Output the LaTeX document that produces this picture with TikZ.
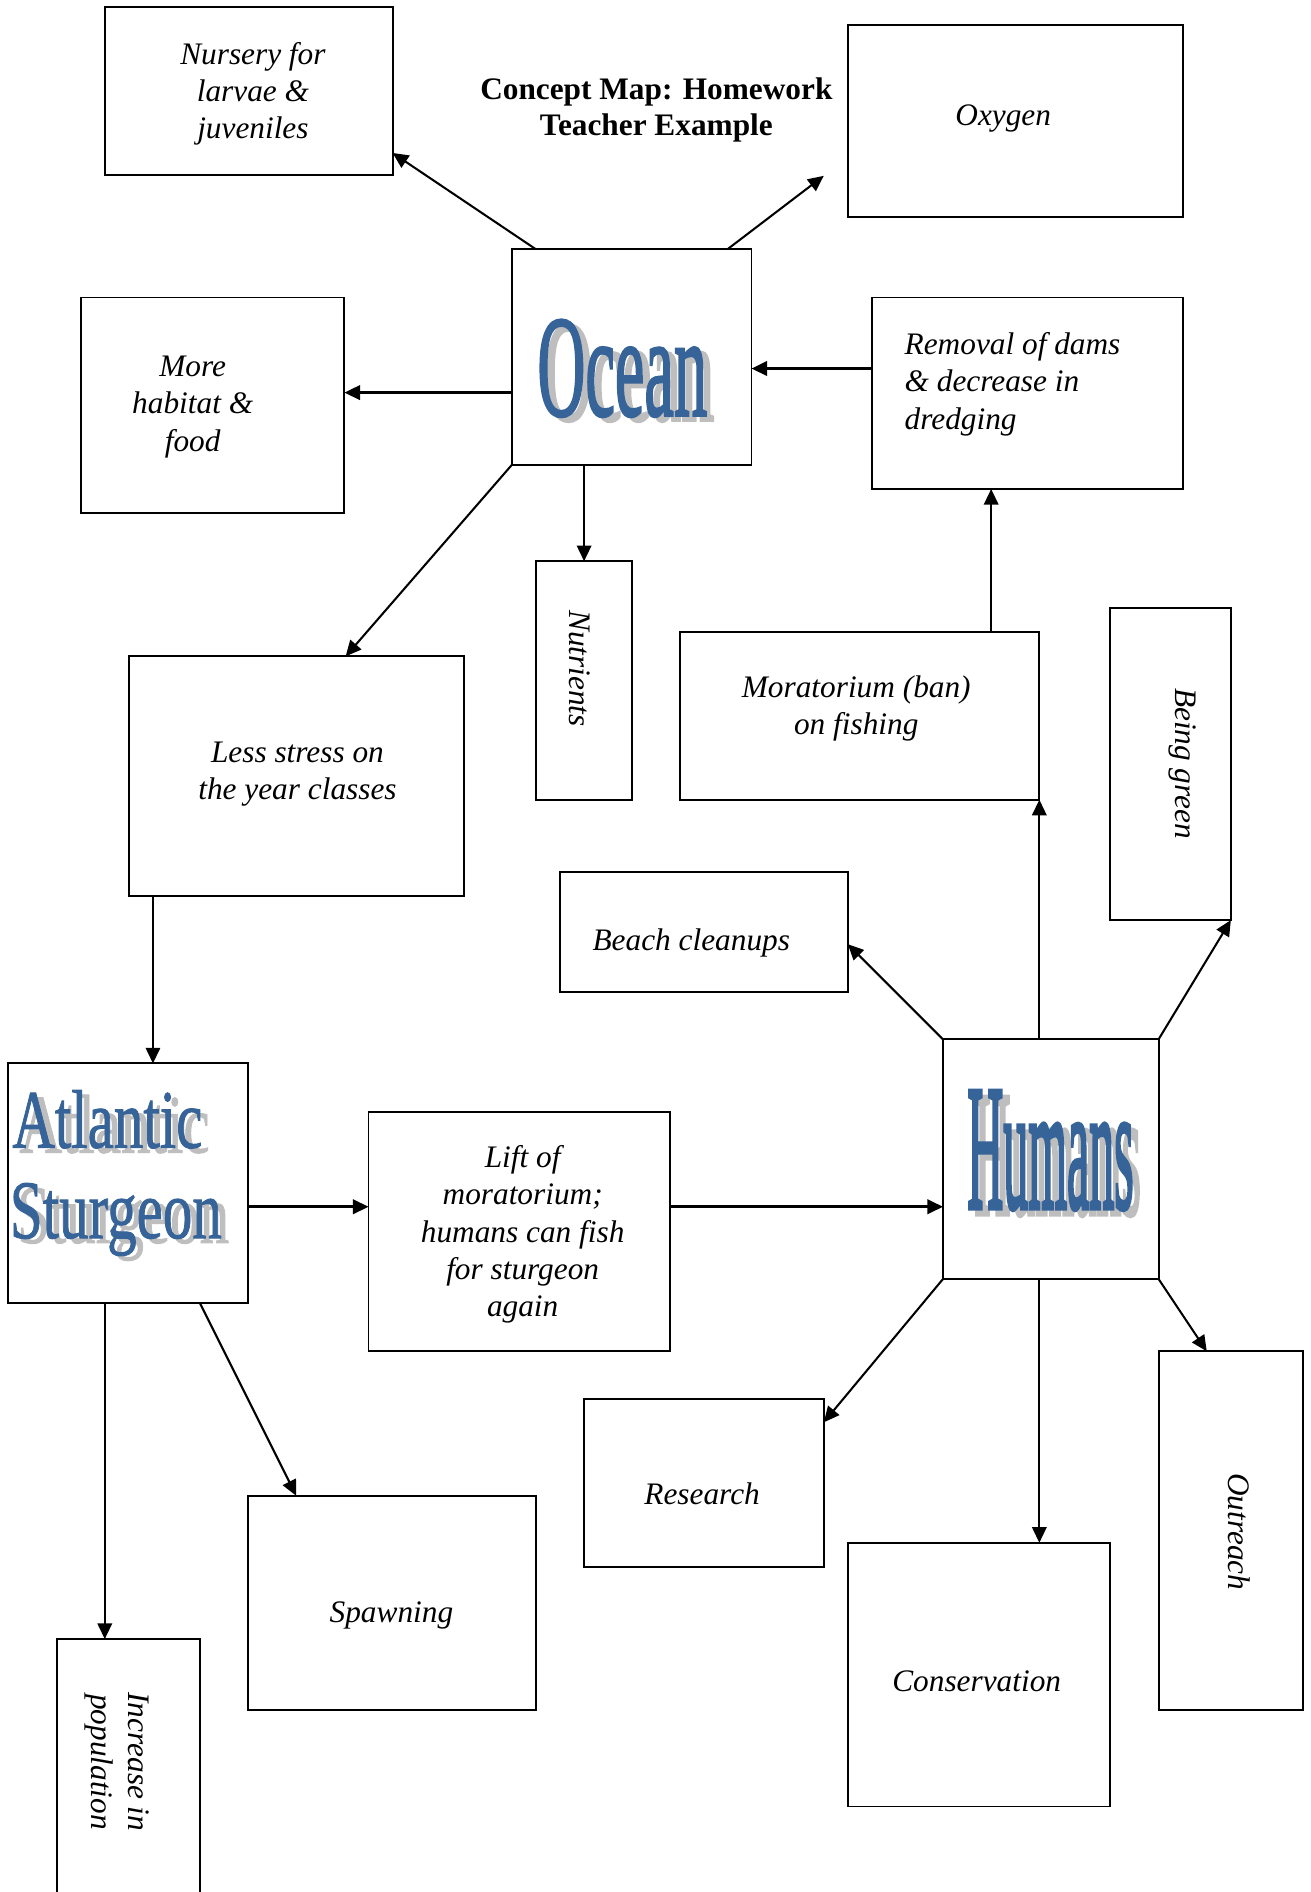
\documentclass[tikz,border=0pt]{standalone}
\usepackage{fontspec}
\setmainfont{Liberation Serif}
\newfontfamily\waOcean{Liberation Serif}[FakeBold=2]
\newfontfamily\waHumans{Liberation Serif}[FakeBold=3]
\newfontfamily\waAtl{Liberation Serif}[FakeBold=1.2]
\usetikzlibrary{arrows.meta}
\definecolor{wablue}{RGB}{54,99,152}
\definecolor{washadow}{RGB}{190,190,190}
\newcommand\wordtext[4]{\rlap{\hspace{#3}\raisebox{-#4}{\color{washadow}\scalebox{#2}[1]{#1}}}{\color{wablue}\scalebox{#2}[1]{#1}}}
\begin{document}
\begin{tikzpicture}[x=1pt,y=-1pt,
  box/.style={draw, line width=1.6pt, inner sep=0pt, outer sep=0pt, anchor=north west},
  txt/.style={font=\fontsize{26}{31}\selectfont\itshape, align=center, inner sep=0pt},
  link/.style={line width=1.7pt, -{Triangle[length=13pt,width=12pt]}},
  thicklink/.style={link, line width=2.3pt},
  wa/.style={inner sep=0pt, anchor=base west},
]
\useasboundingbox (0,0) rectangle (1088,1571);
\fill[white] (0,0) rectangle (1088,1571);

% boxes
\node[box, minimum width=239pt, minimum height=139pt] (nursery) at (87,6) {};
\node[box, minimum width=278pt, minimum height=159pt] (oxygen) at (704,21) {};
\node[box, minimum width=199pt, minimum height=179pt] (ocean) at (425,207) {};
\node[box, minimum width=219pt, minimum height=179pt] (habitat) at (67,247) {};
\node[box, minimum width=258pt, minimum height=159pt] (removal) at (724,247) {};
\node[box, minimum width=80pt, minimum height=198pt] (nutrients) at (445,466) {};
\node[box, minimum width=298pt, minimum height=139pt] (moratorium) at (565,525) {};
\node[box, minimum width=100pt, minimum height=259pt] (green) at (922,505) {};
\node[box, minimum width=278pt, minimum height=199pt] (stress) at (107,545) {};
\node[box, minimum width=239pt, minimum height=100pt] (beach) at (465,724) {};
\node[box, minimum width=199pt, minimum height=199pt] (sturgeon) at (7,883) {};
\node[box, minimum width=250pt, minimum height=199pt] (lift) at (306,923) {};
\node[box, minimum width=179pt, minimum height=199pt] (humans) at (783,863) {};
\node[box, minimum width=199pt, minimum height=139pt] (research) at (485,1162) {};
\node[box, minimum width=239pt, minimum height=178pt] (spawning) at (206,1242) {};
\node[box, minimum width=120pt, minimum height=298pt] (outreach) at (962,1122) {};
\node[box, minimum width=218pt, minimum height=219pt] (conservation) at (704,1281) {};
\node[box, minimum width=119pt, minimum height=240pt] (increase) at (47,1361) {};

% title
\node[font=\fontsize{26}{30}\selectfont\bfseries, align=center, inner sep=0pt] (title) at (545,91) {Concept Map: Homework\\Teacher Example};

% texts
\node[txt] (nursery-t) at (210,78) {Nursery for\\larvae \&\\juveniles};
\node[txt] (oxygen-t) at (833,98) {Oxygen};
\node[txt] (habitat-t) at (160,338) {More\\habitat \&\\food};
\node[txt, align=left, anchor=west] (removal-t) at (751,319) {Removal of dams\\\& decrease in\\dredging};
\node[txt] (moratorium-t) at (711,588) {Moratorium (ban)\\on fishing};
\node[txt] (stress-t) at (247,643) {Less stress on\\the year classes};
\node[txt] (beach-t) at (574,783) {Beach cleanups};
\node[txt] (lift-t) at (434,1025) {Lift of\\moratorium;\\humans can fish\\for sturgeon\\again};
\node[txt] (research-t) at (583,1240) {Research};
\node[txt] (spawning-t) at (325,1341) {Spawning};
\node[txt] (conservation-t) at (811,1396) {Conservation};
\node[txt, rotate=-90] (nutrients-t) at (481,555) {Nutrients};
\node[txt, rotate=-90] (green-t) at (982,634) {Being green};
\node[txt, rotate=-90] (outreach-t) at (1029,1272) {Outreach};
\node[txt, rotate=-90] (increase-t) at (97,1463) {Increase in\\population};

% word art
\node[wa] (ocean-w) at (446,345) {\waOcean\fontsize{120}{120}\selectfont\wordtext{Ocean}{0.46}{6pt}{4pt}};
\node[wa] (humans-w) at (803,1003) {\waHumans\fontsize{148}{148}\selectfont\wordtext{Humans}{0.28}{6pt}{5pt}};
\node[wa, text depth=0pt] (atl-w) at (10,953) {\waAtl\fontsize{69}{69}\selectfont\wordtext{Atlantic}{0.71}{6pt}{4pt}};
\node[wa, text height=46pt] (stu-w) at (8,1028) {\waAtl\fontsize{69}{69}\selectfont\wordtext{Sturgeon}{0.71}{6pt}{4pt}};

% connectors
\coordinate (oxyend) at (684,146);
\draw[link] (445,0 |- ocean.north) -- (nursery.east |- 0,127);
\draw[link] (604,0 |- ocean.north) -- (oxyend);
\draw[thicklink] (ocean.west |- 0,326) -- (habitat.east |- 0,326);
\draw[thicklink] (removal.west |- 0,306) -- (ocean.east |- 0,306);
\draw[link] (485,0 |- ocean.south) -- (485,0 |- nutrients.north);
\draw[link] (ocean.south west) -- (287,0 |- stress.north);
\draw[link] (823,0 |- moratorium.north) -- (823,0 |- removal.south);
\draw[link] (863,0 |- humans.north) -- (moratorium.south east);
\draw[link] (humans.north west) -- (beach.east |- 0,784);
\draw[link] (humans.north east) -- (green.south east);
\draw[link] (127,0 |- stress.south) -- (127,0 |- sturgeon.north);
\draw[thicklink] (sturgeon.east |- 0,1002) -- (lift.west |- 0,1002);
\draw[thicklink] (lift.east |- 0,1002) -- (humans.west |- 0,1002);
\draw[link] (humans.south west) -- (research.east |- 0,1181);
\draw[link] (863,0 |- humans.south) -- (863,0 |- conservation.north);
\draw[link] (humans.south east) -- (1002,0 |- outreach.north);
\draw[link] (87,0 |- sturgeon.south) -- (87,0 |- increase.north);
\draw[link] (166,0 |- sturgeon.south) -- (246,0 |- spawning.north);
\end{tikzpicture}
\end{document}
